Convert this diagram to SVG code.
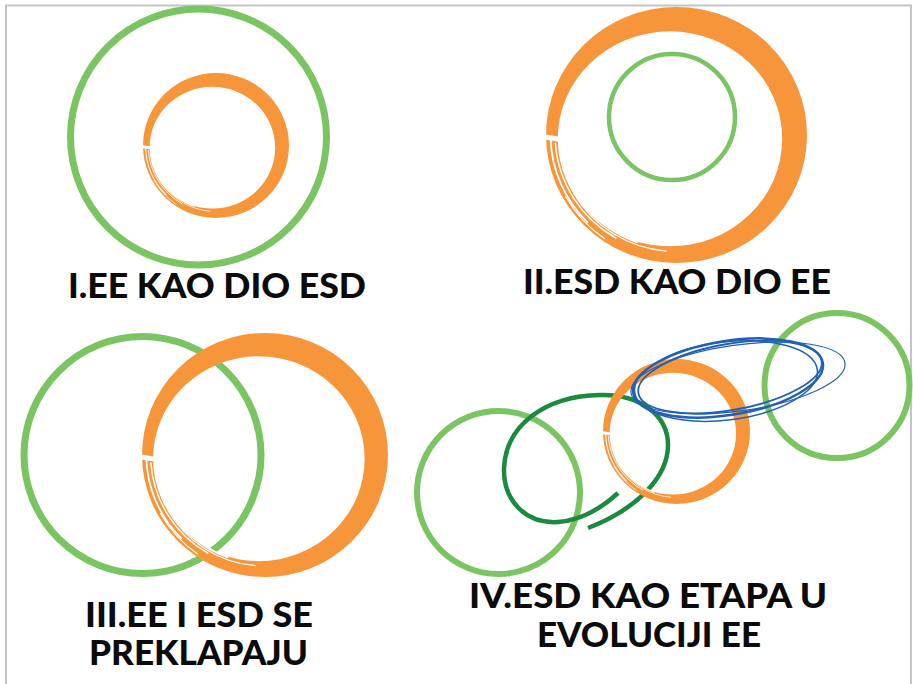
<svg xmlns="http://www.w3.org/2000/svg" xmlns:xlink="http://www.w3.org/1999/xlink" width="913" height="684" viewBox="0 0 913 684">
<style>
.lg{fill:none;stroke:#7ac462}
.brush{fill:#f7953a;fill-rule:evenodd}
.streak{fill:none;stroke:#ffffff;stroke-linecap:round}
.blue{fill:none;stroke:#2260b5}
.lbl{font-family:Lato,"Liberation Sans",Arial,sans-serif;font-weight:900;font-size:35px;fill:#0b0b0b}
</style>
<defs>
<g id="brushRing">
<path class="brush" d="M100 0A100 100 0 1 0 -100 0A100 100 0 1 0 100 0Z M81 3A86 84 0 1 0 -91 3A86 84 0 1 0 81 3Z"/>
<path class="streak" stroke-width="1.6" d="M-30.4 83.7A89 89 0 0 1 -88.9 3.1"/>
<path class="streak" stroke-width="1.2" d="M-46.5 80.5A93 93 0 0 1 -92.8 6.5"/>
<path class="streak" stroke-width="1.4" d="M-68.2 68.2A96.5 96.5 0 0 1 -96.5 1.7"/>
<path class="streak" stroke-width="1" d="M-7.9 90.7A91 91 0 0 1 -78.8 45.5"/>
<path class="streak" stroke-width="0.9" d="M-55 81A98 98 0 0 1 -85 48"/>
<path stroke="#ffffff" stroke-width="4" fill="none" d="M-104 1L-86 4"/>
</g>
</defs>
<rect x="6" y="5.5" width="905" height="700" fill="#ffffff" stroke="#c4c4c8" stroke-width="2"/>
<g id="panel-1">
<circle class="lg" cx="198.5" cy="137" r="128" stroke-width="7"/>
<use xlink:href="#brushRing" transform="translate(216 145.5) scale(0.73 0.725)"/>
<text class="lbl" x="68" y="298" textLength="298" lengthAdjust="spacingAndGlyphs">I.EE KAO DIO ESD</text>
</g>
<g id="panel-2">
<use xlink:href="#brushRing" transform="translate(676.5 135) scale(1.305 1.28)"/>
<circle class="lg" cx="672" cy="117" r="63" stroke-width="4.5"/>
<text class="lbl" x="523" y="294" textLength="308" lengthAdjust="spacingAndGlyphs">II.ESD KAO DIO EE</text>
</g>
<g id="panel-3">
<circle class="lg" cx="142.5" cy="455" r="118.5" stroke-width="7"/>
<use xlink:href="#brushRing" transform="translate(265 455) scale(1.23 1.22)"/>
<text class="lbl" x="85" y="627" textLength="228" lengthAdjust="spacingAndGlyphs">III.EE I ESD SE</text>
<text class="lbl" x="89" y="665" textLength="219" lengthAdjust="spacingAndGlyphs">PREKLAPAJU</text>
</g>
<g id="panel-4">
<circle class="lg" cx="498.5" cy="492.5" r="81.5" stroke-width="6"/>
<circle class="lg" cx="837" cy="385.5" r="72.5" stroke-width="6"/>
<path fill="none" stroke="#1a8a3e" stroke-width="4.5" stroke-linecap="butt" d="M618 493C605 505 585 520 558 522C525 524 503 500 504 468C506 425 545 396 600 395C640 394 668 415 668 445C668 478 635 510 588 528"/>
<use xlink:href="#brushRing" transform="translate(676.5 431.5) scale(0.735 0.725)"/>
<g id="blue-scribble">
<ellipse class="blue" cx="728" cy="378" rx="96" ry="37" stroke-width="2.5" transform="rotate(-9 728 378)"/>
<ellipse class="blue" cx="730" cy="377" rx="93" ry="33" stroke-width="1.8" transform="rotate(-10 730 377)"/>
<ellipse class="blue" cx="738" cy="378" rx="108" ry="33" stroke-width="1.2" transform="rotate(-8 738 378)"/>
<ellipse class="blue" cx="726" cy="381" rx="92" ry="39" stroke-width="1.5" transform="rotate(-7 726 381)"/>
</g>
<text class="lbl" x="469" y="608" textLength="358" lengthAdjust="spacingAndGlyphs">IV.ESD KAO ETAPA U</text>
<text class="lbl" x="537" y="647" textLength="224" lengthAdjust="spacingAndGlyphs">EVOLUCIJI EE</text>
</g>
<g id="connectors"/>
</svg>
